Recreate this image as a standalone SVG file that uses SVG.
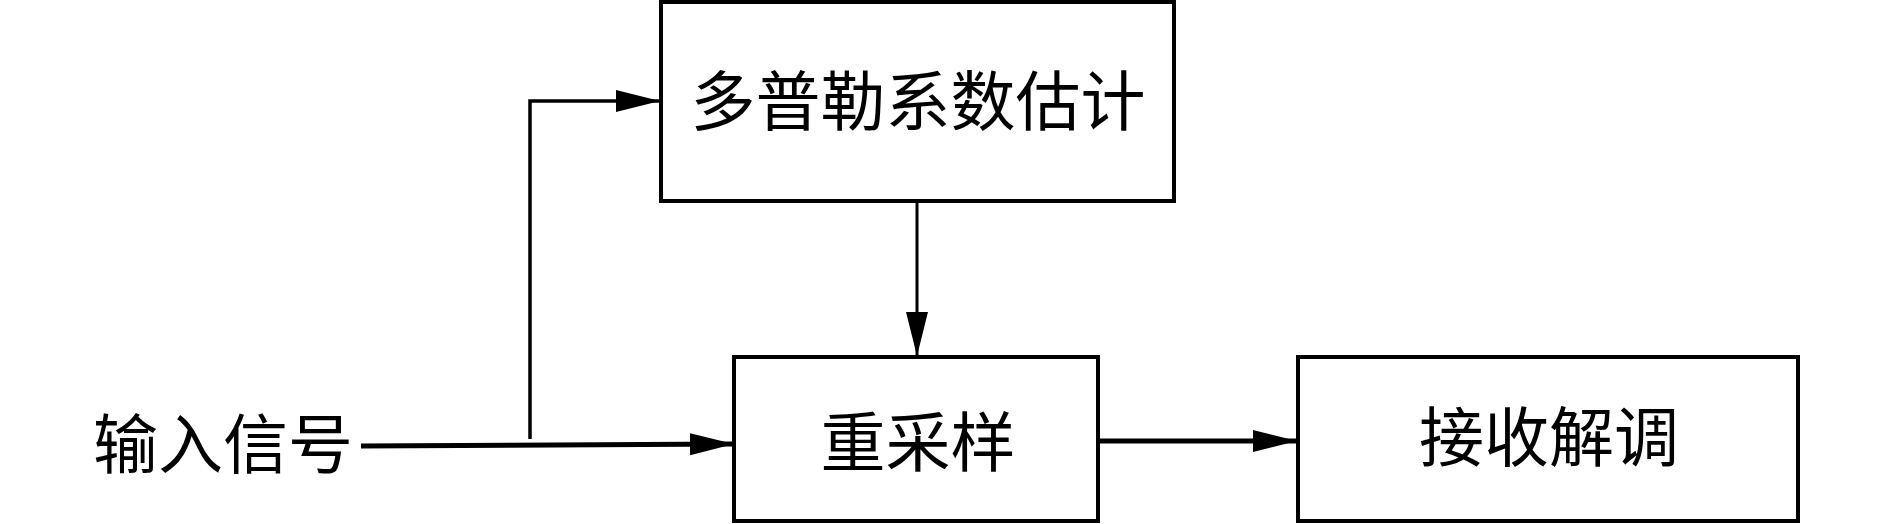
<svg xmlns="http://www.w3.org/2000/svg" width="1889" height="524" viewBox="0 0 1889 524">
  <style>
    .box { fill: #fff; stroke: #000; stroke-width: 4; }
    .lbl { font-family: "Noto Sans CJK SC", "Noto Sans CJK TC", sans-serif; font-size: 65px; fill: #000; }
    .ln { fill: none; stroke: #000; }
  </style>
  <defs>
    <marker id="ah" markerUnits="userSpaceOnUse" markerWidth="44" markerHeight="24" refX="43" refY="11" orient="auto" viewBox="0 0 44 22">
      <path d="M0,0 L44,11 L0,22 Z" fill="#000"/>
    </marker>
  </defs>
  <rect width="1889" height="524" fill="#fff"/>
  <g id="connectors">
    <path class="ln" d="M361,446 L733,444" stroke-width="5" marker-end="url(#ah)"/>
    <path class="ln" d="M530,439 V101 H659" stroke-width="3.5" marker-end="url(#ah)"/>
    <path class="ln" d="M917,201 V355" stroke-width="3" marker-end="url(#ah)"/>
    <path class="ln" d="M1098,441 H1296" stroke-width="5" marker-end="url(#ah)"/>
  </g>
  <g id="input">
    <text class="lbl" x="223" y="468" text-anchor="middle">输入信号</text>
  </g>
  <g id="doppler">
    <rect class="box" x="661" y="2" width="513" height="199"/>
    <text class="lbl" x="918" y="125" text-anchor="middle">多普勒系数估计</text>
  </g>
  <g id="resample">
    <rect class="box" x="734" y="357" width="364" height="164"/>
    <text class="lbl" x="918" y="466" text-anchor="middle">重采样</text>
  </g>
  <g id="demod">
    <rect class="box" x="1298" y="357" width="500" height="164"/>
    <text class="lbl" x="1549" y="461" text-anchor="middle">接收解调</text>
  </g>
</svg>
